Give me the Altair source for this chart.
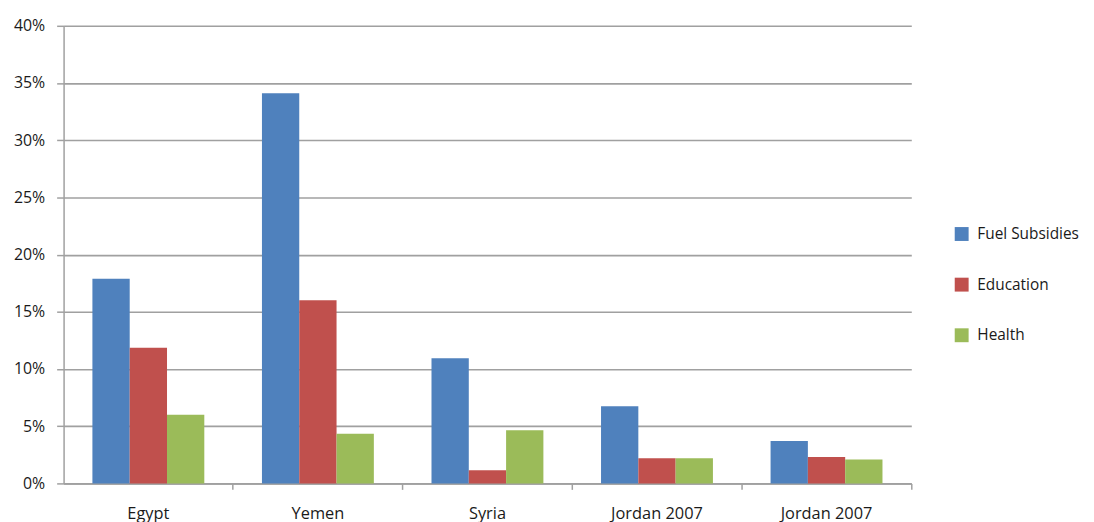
import json
import altair as alt
import pandas as pd

categories = ["Egypt", "Yemen", "Syria", "Jordan 2007", "Jordan 2007"]
series = ["Fuel Subsidies", "Education", "Health"]
fuel = [17.9, 34.1, 10.95, 6.75, 3.7]
education = [11.85, 16.0, 1.15, 2.2, 2.3]
health = [6.0, 4.35, 4.65, 2.2, 2.1]
colors = ["#4F81BD", "#C0504D", "#9BBB59"]

rows = []
for i, c in enumerate(categories):
    for s, vals in zip(series, [fuel, education, health]):
        rows.append({"key": str(i), "label": c, "series": s, "value": vals[i] / 100.0})
df = pd.DataFrame(rows)

label_expr = json.dumps(categories) + "[toNumber(datum.value)]"
FONT = "Open Sans"
LINE = "#a0a0a0"
keys = [str(i) for i in range(len(categories))]
xscale = alt.Scale(paddingInner=0.34, paddingOuter=0.17)
yscale = alt.Scale(domain=[0, 0.4], nice=False)
yaxis = alt.Axis(title=None, format=".0%", values=[i / 100 for i in range(0, 41, 5)],
                 tickSize=7, tickColor=LINE, tickWidth=1.5,
                 domainColor=LINE, domainWidth=1.5,
                 gridColor=LINE, gridWidth=1.6, labelPadding=12,
                 labelFontSize=16, labelColor="#1a1a1a", labelFont=FONT)

bars = alt.Chart(df).mark_bar().encode(
    x=alt.X("key:N", sort=keys, scale=xscale,
            axis=alt.Axis(title=None, orient="bottom", labelAngle=0, labelExpr=label_expr,
                          ticks=False, grid=False, domainColor=LINE, domainWidth=1.5,
                          labelPadding=22,
                          labelFontSize=16.5, labelColor="#1a1a1a", labelFont=FONT)),
    xOffset=alt.XOffset("series:N", sort=series),
    y=alt.Y("value:Q", scale=yscale, axis=yaxis),
    color=alt.Color("series:N", sort=series,
                    scale=alt.Scale(domain=series, range=colors),
                    legend=alt.Legend(title=None, orient="none", legendX=897, legendY=202,
                                      symbolType="square", symbolSize=196, symbolStrokeWidth=0,
                                      labelFontSize=15.5, labelFont=FONT, labelColor="#1a1a1a",
                                      rowPadding=34, labelOffset=8)),
)

ticks = alt.Chart(df).mark_bar(opacity=0).encode(
    x=alt.X("key:N", sort=keys, scale=xscale,
            axis=alt.Axis(title=None, orient="bottom", labels=False, domain=False, grid=False,
                          bandPosition=1.258, tickSize=6, tickColor=LINE, tickWidth=1.5)),
    xOffset=alt.XOffset("series:N", sort=series),
    y=alt.Y("value:Q", scale=yscale, axis=yaxis),
)

chart = alt.layer(bars, ticks).resolve_axis(x="independent").properties(
    width=854, height=461, background="white",
    autosize=alt.AutoSizeParams(type="none"),
    padding={"left": 56, "top": 16, "right": 176, "bottom": 45},
).configure_view(stroke=None)

chart.save("out.html", embed_options={"renderer": "svg", "actions": False})
